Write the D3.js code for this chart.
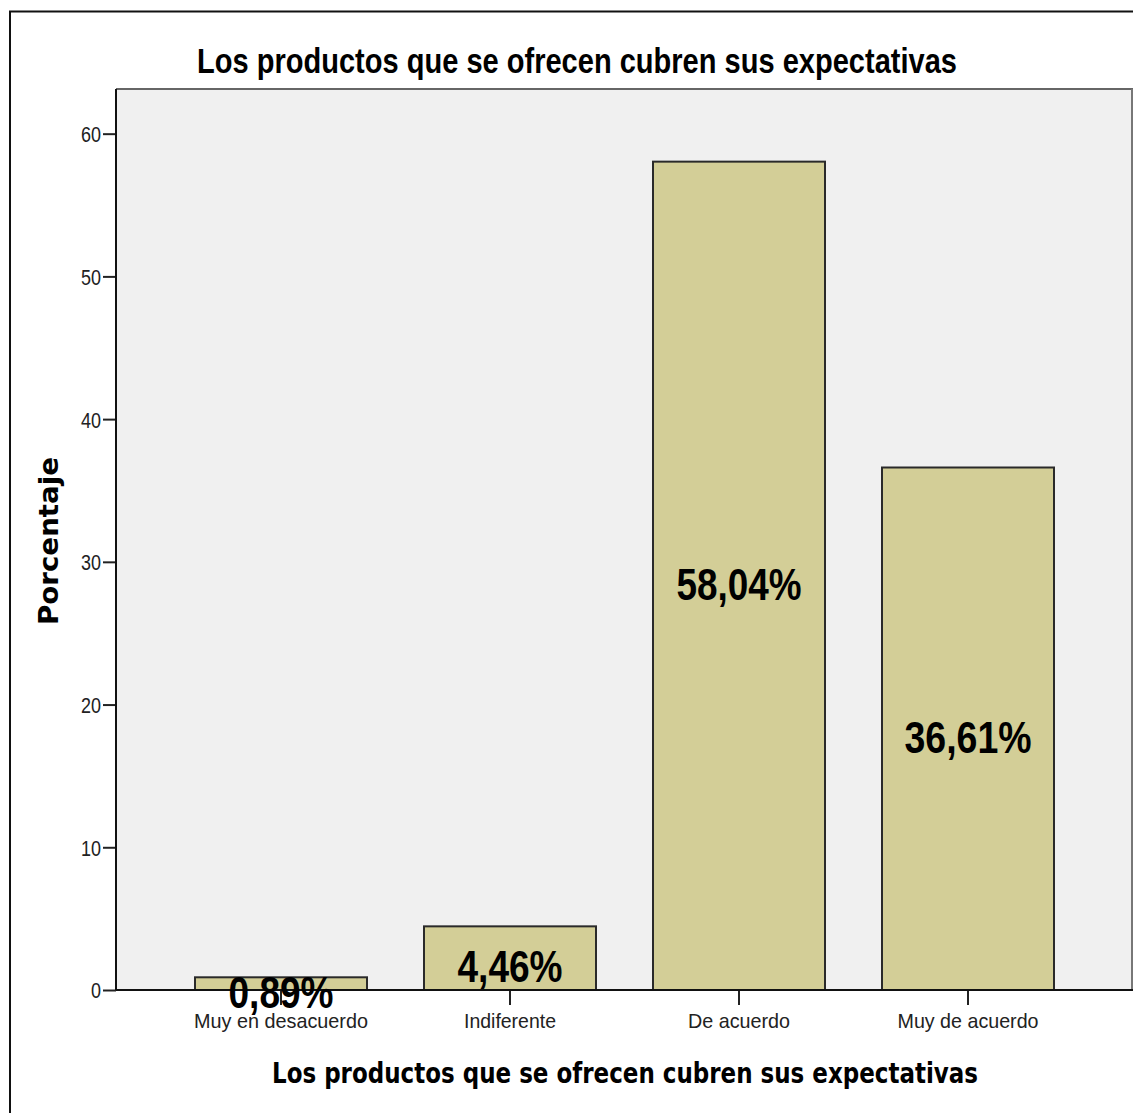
<!DOCTYPE html>
<html>
<head>
<meta charset="utf-8">
<script src="https://cdn.jsdelivr.net/npm/d3@7"></script>
<style>
  html, body { margin: 0; padding: 0; background: #ffffff; }
  svg { display: block; }
</style>
</head>
<body>
<svg id="chart" width="1133" height="1113"></svg>
<script>
// Survey responses: share of respondents per answer
const categories = ["Muy en desacuerdo", "Indiferente", "De acuerdo", "Muy de acuerdo"];
const percentages = [0.89, 4.46, 58.04, 36.61];
const valueLabels = ["0,89%", "4,46%", "58,04%", "36,61%"];
const yTicks = [0, 10, 20, 30, 40, 50, 60];
const chartTitle = "Los productos que se ofrecen cubren sus expectativas";
const xTitle = "Los productos que se ofrecen cubren sus expectativas";
const yTitle = "Porcentaje";

const svg = d3.select("#chart");

// Outer frame
svg.append("rect")
  .attr("x", 10).attr("y", 11.5)
  .attr("width", 1140).attr("height", 1120)
  .attr("fill", "#fff").attr("stroke", "#111").attr("stroke-width", 2);

const plot = { left: 116, right: 1132, top: 89, bottom: 990 };

const y = d3.scaleLinear().domain([0, 63.13]).range([plot.bottom, plot.top]);
const pad = 57 / 229;
const x = d3.scaleBand().domain(categories)
  .range([166.5, 1082.5]).paddingInner(pad).paddingOuter(pad / 2);

// Plot background
svg.append("rect")
  .attr("x", plot.left).attr("y", plot.top)
  .attr("width", plot.right - plot.left).attr("height", plot.bottom - plot.top)
  .attr("fill", "#f0f0f0");
svg.append("line")
  .attr("x1", plot.left).attr("x2", 1133).attr("y1", plot.top).attr("y2", plot.top)
  .attr("stroke", "#666").attr("stroke-width", 2);
svg.append("line")
  .attr("x1", plot.right).attr("x2", plot.right).attr("y1", plot.top).attr("y2", plot.bottom)
  .attr("stroke", "#777").attr("stroke-width", 2);

// Bars
svg.append("g").selectAll("rect").data(percentages).join("rect")
  .attr("x", (d, i) => x(categories[i]))
  .attr("width", x.bandwidth())
  .attr("y", d => y(d))
  .attr("height", d => y(0) - y(d))
  .attr("fill", "#d3ce97")
  .attr("stroke", "#2a2a2a").attr("stroke-width", 2);

// Stretch or squeeze a text element to a given rendered width
function fit(sel, w) {
  sel.attr("textLength", w).attr("lengthAdjust", "spacingAndGlyphs");
  return sel;
}

// Y axis
const yAxis = svg.append("g")
  .attr("transform", `translate(${plot.left},0)`)
  .call(d3.axisLeft(y).tickValues(yTicks).tickSize(13).tickSizeOuter(0).tickPadding(2));
yAxis.select(".domain").remove();
yAxis.selectAll(".tick line").attr("stroke", "#222").attr("stroke-width", 2);
yAxis.selectAll(".tick text")
  .attr("font-family", "Liberation Sans, Arial, sans-serif")
  .attr("font-size", 22).attr("fill", "#222")
  .attr("dy", "0.36em")
  .each(function () {
    const t = d3.select(this);
    fit(t, t.text().length * 10);
  });
svg.append("line")
  .attr("x1", plot.left).attr("x2", plot.left).attr("y1", plot.top).attr("y2", plot.bottom)
  .attr("stroke", "#111").attr("stroke-width", 2);

// X axis
const xAxis = svg.append("g")
  .attr("transform", `translate(0,${plot.bottom})`)
  .call(d3.axisBottom(x).tickSize(15).tickSizeOuter(0).tickPadding(8));
xAxis.select(".domain").remove();
xAxis.selectAll(".tick line").attr("stroke", "#222").attr("stroke-width", 2);
const tickWidths = { "Muy en desacuerdo": 174, "Indiferente": 92, "De acuerdo": 102, "Muy de acuerdo": 141 };
xAxis.selectAll(".tick text")
  .attr("font-family", "Liberation Sans, Arial, sans-serif")
  .attr("font-size", 21).attr("fill", "#222")
  .attr("dy", "0.72em")
  .each(function (d) { fit(d3.select(this), tickWidths[d]); });
svg.append("line")
  .attr("x1", plot.left).attr("x2", 1133).attr("y1", plot.bottom).attr("y2", plot.bottom)
  .attr("stroke", "#111").attr("stroke-width", 2);

// Value labels centred on each bar
const labelWidths = [105, 105, 125, 127];
svg.append("g").selectAll("text").data(percentages).join("text")
  .attr("x", (d, i) => x(categories[i]) + x.bandwidth() / 2)
  .attr("y", d => y(d / 2) + 24)
  .attr("text-anchor", "middle")
  .attr("font-family", "Liberation Sans, Arial, sans-serif")
  .attr("font-weight", "bold").attr("font-size", 45).attr("fill", "#000")
  .text((d, i) => valueLabels[i])
  .each(function (d, i) { fit(d3.select(this), labelWidths[i]); });

// Titles
fit(svg.append("text")
  .attr("x", 577).attr("y", 73)
  .attr("text-anchor", "middle")
  .attr("font-family", "Liberation Sans, Arial, sans-serif")
  .attr("font-weight", "bold").attr("font-size", 35).attr("fill", "#000")
  .text(chartTitle), 760);

fit(svg.append("text")
  .attr("x", 625).attr("y", 1083)
  .attr("text-anchor", "middle")
  .attr("font-family", "DejaVu Sans, sans-serif")
  .attr("font-weight", "bold").attr("font-size", 29).attr("fill", "#000")
  .text(xTitle), 706);

fit(svg.append("text")
  .attr("transform", "translate(58,541) rotate(-90)")
  .attr("text-anchor", "middle")
  .attr("font-family", "DejaVu Sans, sans-serif")
  .attr("font-weight", "bold").attr("font-size", 27).attr("fill", "#000")
  .text(yTitle), 168);
</script>
</body>
</html>
